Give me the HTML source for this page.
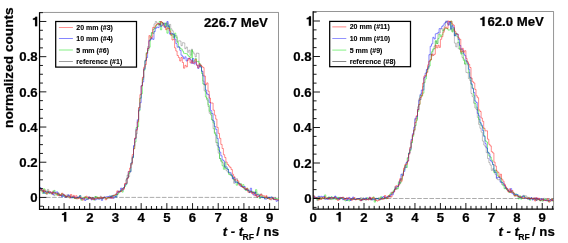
<!DOCTYPE html>
<html><head><meta charset="utf-8"><title>plot</title>
<style>
html,body{margin:0;padding:0;background:#fff;}
body{width:568px;height:243px;overflow:hidden;}
svg{display:block;will-change:transform;}
text{font-family:"Liberation Sans",sans-serif;font-weight:bold;fill:#000;stroke:#000;stroke-width:0.22px;}
.tl{font-size:13.2px;}
.xt{font-size:13.2px;}
.sub{font-size:8.7px;stroke-width:0.1px;}
.ti{font-size:13.2px;}
.lg{font-size:7px;stroke-width:0.1px;}
.yt{font-size:13.65px;}
</style></head><body>
<svg width="568" height="243" viewBox="0 0 568 243">
<rect width="568" height="243" fill="#fff"/>
<text class="yt" transform="translate(13.2 127.9) rotate(-90)">normalized counts</text>
<path d="M39.55 12.45H278.5V209.3" fill="none" stroke="#000" stroke-width="0.42"/>
<path d="M46.0 197.4H278.5" fill="none" stroke="#000" stroke-width="0.55" stroke-dasharray="4.6 1.5" opacity="0.6"/>
<path d="M39.7 187.8H41.0V191.1H42.3V191.2H43.5V192.2H44.8V190.0H46.1V194.4H47.4V189.4H48.7V192.9H50.0V191.9H51.2V192.9H52.5V191.0H53.8V195.7H55.1V193.9H56.4V194.3H57.7V192.7H59.0V195.8H60.2V194.9H61.5V196.1H62.8V195.3H64.1V194.9H65.4V197.1H66.7V194.8H67.9V195.4H69.2V196.1H70.5V195.9H71.8V197.7H73.1V197.3H74.4V198.2H75.7V197.6H76.9V197.0H78.2V198.3H79.5V198.1H80.8V198.5H82.1V198.8H83.4V198.7H84.6V198.2H85.9V199.3H87.2V198.0H88.5V196.7H89.8V197.6H91.1V198.5H92.3V199.2H93.6V199.0H94.9V196.7H96.2V198.3H97.5V198.9H98.8V198.1H100.1V196.2H101.3V198.2H102.6V197.6H103.9V197.8H105.2V198.3H106.5V198.9H107.8V198.0H109.0V197.6H110.3V196.6H111.6V195.8H112.9V195.1H114.2V195.2H115.5V193.8H116.8V194.8H118.0V191.2H119.3V190.9H120.6V190.8H121.9V188.6H123.2V187.9H124.5V183.8H125.7V179.8H127.0V175.1H128.3V176.7H129.6V172.1H130.9V164.8H132.2V156.4H133.5V146.5H134.7V138.4H136.0V133.8H137.3V120.7H138.6V107.6H139.9V97.9H141.2V85.7H142.4V77.8H143.7V68.7H145.0V60.1H146.3V52.7H147.6V46.6H148.9V41.2H150.2V39.0H151.4V32.5H152.7V29.5H154.0V23.9H155.3V21.5H156.6V23.0H157.9V23.9H159.1V24.3H160.4V21.5H161.7V22.6H163.0V23.8H164.3V23.0H165.6V25.2H166.9V22.7H168.1V27.2H169.4V24.4H170.7V28.8H172.0V30.8H173.3V37.2H174.6V35.6H175.8V35.7H177.1V41.5H178.4V40.8H179.7V41.0H181.0V45.7H182.3V42.7H183.5V42.9H184.8V48.7H186.1V47.0H187.4V52.3H188.7V50.2H190.0V55.2H191.3V49.2H192.5V51.9H193.8V53.9H195.1V56.8H196.4V53.0H197.7V53.3H199.0V66.5H200.2V64.9H201.5V71.1H202.8V81.1H204.1V90.8H205.4V92.0H206.7V100.0H208.0V106.5H209.2V113.3H210.5V115.0H211.8V120.0H213.1V128.7H214.4V132.5H215.7V142.5H216.9V145.6H218.2V153.2H219.5V158.5H220.8V161.6H222.1V162.7H223.4V165.3H224.7V167.8H225.9V170.3H227.2V172.1H228.5V172.9H229.8V175.1H231.1V175.9H232.4V178.8H233.6V183.3H234.9V179.3H236.2V178.7H237.5V182.4H238.8V184.2H240.1V185.2H241.4V186.1H242.6V186.8H243.9V189.2H245.2V189.2H246.5V190.6H247.8V189.7H249.1V191.2H250.3V190.9H251.6V192.5H252.9V191.8H254.2V193.5H255.5V191.9H256.8V197.4H258.0V196.6H259.3V195.3H260.6V193.9H261.9V197.3H263.2V197.3H264.5V197.8H265.8V196.5H267.0V198.3H268.3V197.5H269.6V198.7H270.9V199.9H272.2V198.5H273.5V198.5H274.7V197.9H276.0V199.5H277.3V200.1H278.6" fill="none" stroke="#000000" stroke-width="0.4" stroke-opacity="0.6" stroke-linejoin="miter"/>
<path d="M39.7 190.6H41.0V190.4H42.3V193.4H43.5V188.8H44.8V193.5H46.1V192.6H47.4V191.1H48.7V193.6H50.0V193.7H51.2V193.8H52.5V192.3H53.8V190.4H55.1V193.5H56.4V195.2H57.7V193.5H59.0V195.2H60.2V194.8H61.5V193.7H62.8V196.2H64.1V195.6H65.4V196.9H66.7V196.3H67.9V196.1H69.2V197.7H70.5V197.2H71.8V197.2H73.1V197.8H74.4V198.5H75.7V198.8H76.9V197.6H78.2V197.8H79.5V195.5H80.8V200.2H82.1V197.8H83.4V197.7H84.6V196.8H85.9V197.7H87.2V199.1H88.5V198.3H89.8V197.8H91.1V198.6H92.3V197.6H93.6V200.1H94.9V196.6H96.2V196.9H97.5V198.6H98.8V197.7H100.1V198.2H101.3V199.1H102.6V198.1H103.9V197.1H105.2V198.3H106.5V198.2H107.8V197.7H109.0V197.0H110.3V195.9H111.6V197.4H112.9V195.6H114.2V195.3H115.5V197.0H116.8V194.5H118.0V193.0H119.3V191.7H120.6V190.1H121.9V192.1H123.2V187.8H124.5V186.5H125.7V184.4H127.0V177.9H128.3V173.6H129.6V171.2H130.9V163.0H132.2V157.9H133.5V148.7H134.7V142.0H136.0V127.5H137.3V126.7H138.6V110.9H139.9V98.3H141.2V93.7H142.4V79.4H143.7V70.2H145.0V60.6H146.3V52.8H147.6V50.3H148.9V47.2H150.2V36.1H151.4V32.8H152.7V33.4H154.0V28.4H155.3V26.1H156.6V24.5H157.9V24.8H159.1V21.5H160.4V29.8H161.7V22.6H163.0V24.4H164.3V26.2H165.6V23.0H166.9V33.2H168.1V25.4H169.4V29.1H170.7V35.4H172.0V33.9H173.3V38.2H174.6V33.1H175.8V37.2H177.1V42.5H178.4V47.1H179.7V48.2H181.0V49.1H182.3V51.1H183.5V53.2H184.8V53.5H186.1V53.7H187.4V55.2H188.7V56.5H190.0V57.9H191.3V50.2H192.5V61.2H193.8V61.0H195.1V58.4H196.4V61.5H197.7V61.3H199.0V63.5H200.2V66.6H201.5V73.5H202.8V84.0H204.1V85.0H205.4V97.0H206.7V98.7H208.0V104.9H209.2V111.3H210.5V113.1H211.8V120.0H213.1V123.0H214.4V133.7H215.7V135.3H216.9V142.8H218.2V150.1H219.5V158.5H220.8V160.6H222.1V165.8H223.4V169.3H224.7V162.6H225.9V168.5H227.2V169.0H228.5V174.3H229.8V174.2H231.1V175.8H232.4V177.4H233.6V179.7H234.9V181.3H236.2V185.2H237.5V182.3H238.8V183.6H240.1V183.6H241.4V186.5H242.6V184.6H243.9V188.5H245.2V190.3H246.5V188.2H247.8V190.8H249.1V192.5H250.3V191.5H251.6V191.4H252.9V192.8H254.2V193.2H255.5V189.7H256.8V194.3H258.0V194.1H259.3V198.5H260.6V196.3H261.9V196.2H263.2V197.7H264.5V198.4H265.8V197.4H267.0V198.3H268.3V198.8H269.6V197.3H270.9V197.3H272.2V198.5H273.5V199.4H274.7V198.7H276.0V198.5H277.3V198.9H278.6" fill="none" stroke="#00e000" stroke-width="0.45" stroke-opacity="1" stroke-linejoin="miter"/>
<path d="M39.7 187.7H41.0V189.8H42.3V190.5H43.5V193.3H44.8V191.5H46.1V191.9H47.4V191.9H48.7V192.8H50.0V192.4H51.2V193.2H52.5V194.6H53.8V192.1H55.1V192.5H56.4V191.8H57.7V194.1H59.0V195.0H60.2V195.4H61.5V196.9H62.8V194.2H64.1V196.9H65.4V197.2H66.7V196.4H67.9V194.8H69.2V196.4H70.5V197.9H71.8V197.7H73.1V196.5H74.4V197.4H75.7V198.1H76.9V197.7H78.2V196.9H79.5V195.8H80.8V199.0H82.1V198.5H83.4V198.8H84.6V200.5H85.9V199.1H87.2V199.3H88.5V197.2H89.8V198.4H91.1V199.9H92.3V197.7H93.6V198.6H94.9V200.0H96.2V198.9H97.5V198.9H98.8V199.2H100.1V198.3H101.3V200.4H102.6V198.4H103.9V197.1H105.2V197.1H106.5V196.7H107.8V196.5H109.0V196.0H110.3V198.3H111.6V195.8H112.9V198.3H114.2V196.2H115.5V197.1H116.8V192.7H118.0V191.2H119.3V191.9H120.6V188.1H121.9V190.2H123.2V187.7H124.5V185.3H125.7V183.8H127.0V178.0H128.3V171.7H129.6V171.8H130.9V162.9H132.2V157.4H133.5V145.5H134.7V138.8H136.0V129.2H137.3V119.7H138.6V110.0H139.9V102.7H141.2V85.7H142.4V82.0H143.7V69.2H145.0V60.8H146.3V57.6H147.6V48.6H148.9V40.4H150.2V39.3H151.4V37.9H152.7V39.4H154.0V31.5H155.3V28.3H156.6V27.0H157.9V27.6H159.1V23.8H160.4V26.4H161.7V25.2H163.0V23.3H164.3V27.5H165.6V26.6H166.9V21.5H168.1V26.6H169.4V34.1H170.7V33.1H172.0V33.9H173.3V34.3H174.6V39.2H175.8V43.6H177.1V47.2H178.4V46.8H179.7V50.3H181.0V55.2H182.3V56.7H183.5V58.8H184.8V56.8H186.1V61.0H187.4V58.6H188.7V58.3H190.0V59.7H191.3V63.4H192.5V58.5H193.8V64.0H195.1V61.8H196.4V65.2H197.7V68.4H199.0V64.9H200.2V67.1H201.5V71.3H202.8V75.9H204.1V84.3H205.4V90.0H206.7V94.0H208.0V94.7H209.2V102.4H210.5V110.6H211.8V113.6H213.1V121.1H214.4V126.5H215.7V129.4H216.9V138.4H218.2V147.2H219.5V152.1H220.8V155.8H222.1V159.9H223.4V161.0H224.7V167.0H225.9V166.9H227.2V169.5H228.5V172.3H229.8V172.7H231.1V175.0H232.4V178.8H233.6V177.5H234.9V182.4H236.2V181.9H237.5V183.2H238.8V183.7H240.1V186.3H241.4V186.3H242.6V187.3H243.9V186.5H245.2V189.8H246.5V189.4H247.8V190.5H249.1V192.6H250.3V188.2H251.6V192.4H252.9V194.9H254.2V192.1H255.5V195.8H256.8V194.8H258.0V194.9H259.3V197.1H260.6V197.2H261.9V197.6H263.2V197.4H264.5V199.1H265.8V199.0H267.0V198.1H268.3V197.2H269.6V197.8H270.9V196.9H272.2V198.1H273.5V199.5H274.7V199.3H276.0V201.3H277.3V200.4H278.6" fill="none" stroke="#0000ff" stroke-width="0.45" stroke-opacity="1" stroke-linejoin="miter"/>
<path d="M39.7 190.0H41.0V189.6H42.3V191.9H43.5V190.0H44.8V191.7H46.1V193.5H47.4V192.6H48.7V191.3H50.0V191.9H51.2V194.0H52.5V192.1H53.8V193.3H55.1V193.0H56.4V193.4H57.7V195.5H59.0V194.0H60.2V195.5H61.5V193.2H62.8V194.5H64.1V195.5H65.4V197.0H66.7V196.1H67.9V196.2H69.2V198.0H70.5V194.5H71.8V196.6H73.1V195.4H74.4V198.4H75.7V195.7H76.9V198.8H78.2V198.2H79.5V197.2H80.8V197.8H82.1V200.2H83.4V199.1H84.6V197.3H85.9V196.2H87.2V197.4H88.5V198.6H89.8V197.5H91.1V199.4H92.3V197.8H93.6V199.6H94.9V198.3H96.2V198.4H97.5V197.5H98.8V198.6H100.1V197.1H101.3V198.5H102.6V197.4H103.9V197.3H105.2V199.8H106.5V197.8H107.8V197.6H109.0V198.2H110.3V197.0H111.6V198.3H112.9V195.6H114.2V195.0H115.5V194.5H116.8V190.9H118.0V192.4H119.3V191.5H120.6V191.4H121.9V188.9H123.2V189.2H124.5V183.7H125.7V183.2H127.0V178.3H128.3V171.4H129.6V168.0H130.9V163.8H132.2V154.6H133.5V148.8H134.7V138.0H136.0V130.2H137.3V122.0H138.6V107.7H139.9V94.6H141.2V85.9H142.4V77.2H143.7V67.2H145.0V64.6H146.3V53.6H147.6V48.4H148.9V35.6H150.2V38.3H151.4V37.1H152.7V27.4H154.0V27.6H155.3V25.1H156.6V23.9H157.9V23.4H159.1V24.9H160.4V21.5H161.7V22.8H163.0V26.0H164.3V26.2H165.6V29.7H166.9V27.9H168.1V28.5H169.4V30.9H170.7V34.4H172.0V40.0H173.3V39.5H174.6V47.9H175.8V51.0H177.1V55.5H178.4V57.6H179.7V61.0H181.0V57.5H182.3V62.5H183.5V68.2H184.8V65.3H186.1V66.9H187.4V60.2H188.7V58.3H190.0V62.9H191.3V60.7H192.5V63.3H193.8V62.3H195.1V59.5H196.4V65.1H197.7V67.8H199.0V63.9H200.2V65.4H201.5V66.4H202.8V67.6H204.1V76.0H205.4V84.7H206.7V82.9H208.0V91.2H209.2V98.1H210.5V103.0H211.8V103.0H213.1V110.2H214.4V115.1H215.7V119.1H216.9V127.4H218.2V133.4H219.5V138.3H220.8V144.4H222.1V148.5H223.4V154.7H224.7V157.5H225.9V162.1H227.2V164.5H228.5V166.0H229.8V167.4H231.1V169.6H232.4V174.3H233.6V176.7H234.9V180.1H236.2V180.0H237.5V180.9H238.8V185.2H240.1V184.3H241.4V186.9H242.6V187.5H243.9V187.8H245.2V189.4H246.5V188.4H247.8V192.2H249.1V191.8H250.3V191.7H251.6V193.6H252.9V192.6H254.2V195.7H255.5V194.5H256.8V196.9H258.0V196.0H259.3V195.8H260.6V194.3H261.9V195.9H263.2V195.7H264.5V197.5H265.8V195.7H267.0V198.2H268.3V198.4H269.6V199.7H270.9V198.4H272.2V197.8H273.5V199.6H274.7V199.5H276.0V199.8H277.3V199.8H278.6" fill="none" stroke="#ff0000" stroke-width="0.45" stroke-opacity="1" stroke-linejoin="miter"/>
<path d="M39.55 206.22h3.4M39.55 197.42h6.8M39.55 188.62h3.4M39.55 179.82h3.4M39.55 171.03h3.4M39.55 162.23h6.8M39.55 153.43h3.4M39.55 144.63h3.4M39.55 135.84h3.4M39.55 127.04h6.8M39.55 118.24h3.4M39.55 109.44h3.4M39.55 100.65h3.4M39.55 91.85h6.8M39.55 83.05h3.4M39.55 74.26h3.4M39.55 65.46h3.4M39.55 56.66h6.8M39.55 47.86h3.4M39.55 39.06h3.4M39.55 30.27h3.4M39.55 21.47h6.8M39.55 12.67h3.4M43.54 209.3v-3.3M48.68 209.3v-3.3M53.81 209.3v-3.3M58.95 209.3v-3.3M64.09 209.3v-6.2M69.23 209.3v-3.3M74.37 209.3v-3.3M79.50 209.3v-3.3M84.64 209.3v-3.3M89.78 209.3v-6.2M94.92 209.3v-3.3M100.06 209.3v-3.3M105.19 209.3v-3.3M110.33 209.3v-3.3M115.47 209.3v-6.2M120.61 209.3v-3.3M125.75 209.3v-3.3M130.88 209.3v-3.3M136.02 209.3v-3.3M141.16 209.3v-6.2M146.30 209.3v-3.3M151.44 209.3v-3.3M156.57 209.3v-3.3M161.71 209.3v-3.3M166.85 209.3v-6.2M171.99 209.3v-3.3M177.13 209.3v-3.3M182.26 209.3v-3.3M187.40 209.3v-3.3M192.54 209.3v-6.2M197.68 209.3v-3.3M202.82 209.3v-3.3M207.95 209.3v-3.3M213.09 209.3v-3.3M218.23 209.3v-6.2M223.37 209.3v-3.3M228.51 209.3v-3.3M233.64 209.3v-3.3M238.78 209.3v-3.3M243.92 209.3v-6.2M249.06 209.3v-3.3M254.20 209.3v-3.3M259.33 209.3v-3.3M264.47 209.3v-3.3M269.61 209.3v-6.2M274.75 209.3v-3.3" fill="none" stroke="#000" stroke-width="0.9"/>
<path d="M39.55 12.149999999999999V209.3H278.8" fill="none" stroke="#000" stroke-width="1.25" stroke-linejoin="miter"/>
<text x="37.7" y="202.1" text-anchor="end" class="tl">0</text>
<text x="37.7" y="166.9" text-anchor="end" class="tl">0.2</text>
<text x="37.7" y="131.7" text-anchor="end" class="tl">0.4</text>
<text x="37.7" y="96.5" text-anchor="end" class="tl">0.6</text>
<text x="37.7" y="61.4" text-anchor="end" class="tl">0.8</text>
<path d="M37.20 26.17H35.05V19.72H32.90V18.42C34.10 18.37 35.10 17.87 35.45 16.72H37.20Z" fill="#000" stroke="#000" stroke-width="0.15"/>
<path d="M66.24 221.50H64.09V215.05H61.94V213.75C63.14 213.70 64.14 213.20 64.49 212.05H66.24Z" fill="#000" stroke="#000" stroke-width="0.15"/>
<text x="89.8" y="221.5" text-anchor="middle" class="tl">2</text>
<text x="115.5" y="221.5" text-anchor="middle" class="tl">3</text>
<text x="141.2" y="221.5" text-anchor="middle" class="tl">4</text>
<text x="166.9" y="221.5" text-anchor="middle" class="tl">5</text>
<text x="192.5" y="221.5" text-anchor="middle" class="tl">6</text>
<text x="218.2" y="221.5" text-anchor="middle" class="tl">7</text>
<text x="243.9" y="221.5" text-anchor="middle" class="tl">8</text>
<text x="269.6" y="221.5" text-anchor="middle" class="tl">9</text>
<text x="222.7" y="235.6" class="xt" font-style="italic">t - t</text>
<text x="242.6" y="240.3" class="sub">RF</text>
<text x="256.3" y="235.6" class="xt">/ ns</text>
<text x="204.0" y="27.0" class="ti">226.7 MeV</text>
<rect x="55.7" y="21.5" width="80.8" height="45.599999999999994" fill="#fff" stroke="#000" stroke-width="1.25"/>
<path d="M58.9 27.4h14" stroke="#ff0000" stroke-width="0.6" opacity="0.8"/>
<text x="76.3" y="29.9" class="lg">20 mm (#3)</text>
<path d="M58.9 38.5h14" stroke="#0000ff" stroke-width="0.6" opacity="0.8"/>
<text x="76.3" y="41.0" class="lg">10 mm (#4)</text>
<path d="M58.9 50.0h14" stroke="#00e000" stroke-width="0.6" opacity="0.8"/>
<text x="76.3" y="52.5" class="lg">5 mm (#6)</text>
<path d="M58.9 61.7h14" stroke="#000000" stroke-width="0.6" opacity="0.8"/>
<text x="76.3" y="64.2" class="lg">reference (#1)</text>
<path d="M313.15 11.5H553.55V209.2" fill="none" stroke="#000" stroke-width="0.42"/>
<path d="M319.6 198.5H553.55" fill="none" stroke="#000" stroke-width="0.55" stroke-dasharray="4.6 1.5" opacity="0.6"/>
<path d="M313.1 195.7H314.4V198.0H315.6V198.2H316.9V200.6H318.2V197.8H319.5V198.1H320.7V198.4H322.0V197.5H323.3V197.4H324.6V199.1H325.8V198.9H327.1V198.5H328.4V197.3H329.6V197.5H330.9V199.6H332.2V199.4H333.5V197.5H334.7V196.7H336.0V198.5H337.3V199.2H338.6V197.4H339.8V198.9H341.1V197.9H342.4V197.1H343.7V198.1H344.9V198.6H346.2V198.0H347.5V199.4H348.7V199.0H350.0V199.4H351.3V199.1H352.6V199.4H353.8V199.1H355.1V199.3H356.4V198.9H357.7V198.9H358.9V198.7H360.2V197.6H361.5V200.6H362.7V197.8H364.0V199.3H365.3V200.3H366.6V199.2H367.8V198.9H369.1V198.0H370.4V200.1H371.7V198.8H372.9V198.9H374.2V200.7H375.5V200.2H376.8V198.4H378.0V198.2H379.3V197.8H380.6V198.2H381.8V198.3H383.1V198.4H384.4V197.1H385.7V198.7H386.9V197.3H388.2V195.8H389.5V197.2H390.8V192.2H392.0V193.4H393.3V191.0H394.6V186.7H395.8V189.4H397.1V187.0H398.4V181.6H399.7V182.8H400.9V178.5H402.2V173.2H403.5V169.7H404.8V166.1H406.0V163.1H407.3V157.5H408.6V153.0H409.8V147.2H411.1V142.4H412.4V135.2H413.7V131.1H414.9V119.4H416.2V118.7H417.5V106.8H418.8V98.8H420.0V99.5H421.3V92.9H422.6V86.6H423.9V77.8H425.1V76.5H426.4V69.9H427.7V66.4H428.9V61.7H430.2V54.0H431.5V56.0H432.8V49.9H434.0V46.1H435.3V41.3H436.6V43.6H437.9V34.2H439.1V32.9H440.4V29.1H441.7V28.8H442.9V31.0H444.2V26.2H445.5V21.0H446.8V23.1H448.0V24.4H449.3V21.5H450.6V22.7H451.9V31.1H453.1V29.1H454.4V43.1H455.7V46.9H456.9V42.7H458.2V48.7H459.5V49.6H460.8V52.9H462.0V57.6H463.3V59.1H464.6V64.2H465.9V72.4H467.1V72.9H468.4V78.5H469.7V80.5H471.0V93.5H472.2V96.7H473.5V103.2H474.8V107.9H476.0V109.3H477.3V117.4H478.6V124.4H479.9V128.2H481.1V132.2H482.4V141.1H483.7V145.0H485.0V146.7H486.2V152.7H487.5V158.5H488.8V162.6H490.0V165.1H491.3V170.4H492.6V168.7H493.9V172.1H495.1V174.6H496.4V178.8H497.7V179.8H499.0V179.6H500.2V181.7H501.5V184.4H502.8V184.5H504.1V185.2H505.3V188.8H506.6V189.7H507.9V191.1H509.1V192.4H510.4V190.7H511.7V191.9H513.0V193.0H514.2V195.6H515.5V196.1H516.8V195.5H518.1V196.4H519.3V196.2H520.6V197.5H521.9V196.3H523.1V195.3H524.4V195.8H525.7V196.0H527.0V198.0H528.2V197.3H529.5V198.8H530.8V197.7H532.1V199.1H533.3V199.4H534.6V199.7H535.9V198.5H537.1V199.0H538.4V199.2H539.7V200.6H541.0V199.5H542.2V201.1H543.5V198.3H544.8V200.0H546.1V199.8H547.3V200.2H548.6V201.7H549.9V201.5H551.2V200.3H552.4V198.8H553.6" fill="none" stroke="#000000" stroke-width="0.4" stroke-opacity="0.6" stroke-linejoin="miter"/>
<path d="M313.1 197.1H314.4V198.4H315.6V197.4H316.9V199.6H318.2V197.0H319.5V199.4H320.7V197.8H322.0V198.0H323.3V198.8H324.6V194.9H325.8V198.6H327.1V197.5H328.4V196.9H329.6V199.4H330.9V196.8H332.2V198.4H333.5V197.3H334.7V199.3H336.0V199.5H337.3V197.3H338.6V198.0H339.8V198.4H341.1V198.0H342.4V198.1H343.7V199.8H344.9V200.9H346.2V200.4H347.5V200.5H348.7V201.0H350.0V199.5H351.3V199.4H352.6V198.9H353.8V198.7H355.1V199.3H356.4V199.2H357.7V198.9H358.9V200.0H360.2V199.7H361.5V199.0H362.7V199.7H364.0V199.6H365.3V199.1H366.6V197.7H367.8V198.7H369.1V199.4H370.4V199.6H371.7V199.1H372.9V196.9H374.2V202.1H375.5V198.5H376.8V198.7H378.0V198.1H379.3V200.0H380.6V196.7H381.8V197.7H383.1V198.6H384.4V198.2H385.7V198.6H386.9V197.1H388.2V196.5H389.5V194.2H390.8V193.6H392.0V192.6H393.3V190.2H394.6V189.1H395.8V188.2H397.1V188.7H398.4V182.7H399.7V183.3H400.9V179.8H402.2V174.8H403.5V170.3H404.8V165.5H406.0V167.5H407.3V158.2H408.6V152.9H409.8V150.4H411.1V142.8H412.4V136.4H413.7V130.0H414.9V125.5H416.2V120.3H417.5V111.3H418.8V104.6H420.0V95.5H421.3V96.2H422.6V93.2H423.9V82.7H425.1V78.9H426.4V71.9H427.7V68.8H428.9V66.0H430.2V59.9H431.5V51.7H432.8V48.9H434.0V48.4H435.3V40.6H436.6V43.5H437.9V38.6H439.1V34.6H440.4V36.9H441.7V34.8H442.9V30.1H444.2V29.0H445.5V28.4H446.8V28.7H448.0V30.1H449.3V29.9H450.6V21.0H451.9V32.0H453.1V28.2H454.4V35.5H455.7V33.0H456.9V36.8H458.2V42.7H459.5V48.9H460.8V54.1H462.0V51.5H463.3V60.4H464.6V63.9H465.9V60.7H467.1V64.8H468.4V72.5H469.7V78.1H471.0V84.6H472.2V88.0H473.5V95.7H474.8V103.6H476.0V107.2H477.3V110.3H478.6V119.4H479.9V123.3H481.1V126.0H482.4V127.8H483.7V135.7H485.0V140.8H486.2V142.0H487.5V152.2H488.8V155.9H490.0V157.1H491.3V160.2H492.6V164.6H493.9V172.7H495.1V170.0H496.4V172.7H497.7V176.1H499.0V177.3H500.2V178.3H501.5V182.4H502.8V185.7H504.1V188.7H505.3V187.6H506.6V190.0H507.9V190.9H509.1V192.6H510.4V191.7H511.7V191.9H513.0V193.1H514.2V195.7H515.5V193.9H516.8V195.2H518.1V198.9H519.3V195.8H520.6V199.1H521.9V198.3H523.1V196.2H524.4V196.9H525.7V198.5H527.0V199.0H528.2V197.9H529.5V200.2H530.8V198.2H532.1V199.0H533.3V198.2H534.6V199.2H535.9V200.2H537.1V199.1H538.4V199.7H539.7V200.9H541.0V200.7H542.2V200.7H543.5V199.7H544.8V199.1H546.1V200.0H547.3V201.2H548.6V200.4H549.9V199.6H551.2V199.1H552.4V201.1H553.6" fill="none" stroke="#00e000" stroke-width="0.45" stroke-opacity="1" stroke-linejoin="miter"/>
<path d="M313.1 198.4H314.4V196.8H315.6V197.7H316.9V197.2H318.2V196.2H319.5V197.2H320.7V196.3H322.0V196.9H323.3V196.3H324.6V199.1H325.8V198.8H327.1V199.4H328.4V197.5H329.6V198.4H330.9V197.2H332.2V197.9H333.5V198.2H334.7V196.1H336.0V197.8H337.3V198.5H338.6V199.5H339.8V197.4H341.1V197.7H342.4V199.7H343.7V198.8H344.9V198.5H346.2V200.4H347.5V199.1H348.7V197.4H350.0V200.5H351.3V198.4H352.6V197.0H353.8V199.5H355.1V199.4H356.4V198.8H357.7V198.5H358.9V198.6H360.2V200.5H361.5V199.8H362.7V198.9H364.0V199.4H365.3V197.9H366.6V199.4H367.8V199.4H369.1V197.2H370.4V199.1H371.7V200.0H372.9V199.0H374.2V199.3H375.5V198.3H376.8V198.5H378.0V199.3H379.3V199.2H380.6V199.3H381.8V197.3H383.1V196.5H384.4V198.4H385.7V197.2H386.9V196.7H388.2V196.8H389.5V195.9H390.8V194.5H392.0V194.8H393.3V191.9H394.6V188.9H395.8V186.8H397.1V186.5H398.4V184.3H399.7V180.0H400.9V174.3H402.2V175.4H403.5V171.5H404.8V167.6H406.0V162.5H407.3V161.0H408.6V153.5H409.8V149.2H411.1V139.4H412.4V133.7H413.7V127.3H414.9V118.4H416.2V116.5H417.5V109.6H418.8V100.3H420.0V94.4H421.3V90.0H422.6V90.1H423.9V77.7H425.1V73.2H426.4V69.4H427.7V67.7H428.9V54.7H430.2V46.2H431.5V43.9H432.8V37.3H434.0V39.0H435.3V33.8H436.6V33.4H437.9V32.4H439.1V28.6H440.4V28.4H441.7V26.4H442.9V25.1H444.2V23.0H445.5V22.1H446.8V21.0H448.0V25.2H449.3V22.0H450.6V29.1H451.9V25.7H453.1V27.4H454.4V35.9H455.7V33.9H456.9V34.1H458.2V39.5H459.5V45.4H460.8V48.9H462.0V50.0H463.3V53.8H464.6V55.6H465.9V61.1H467.1V63.3H468.4V69.2H469.7V77.4H471.0V83.8H472.2V88.7H473.5V92.5H474.8V101.0H476.0V102.5H477.3V113.4H478.6V115.9H479.9V122.6H481.1V125.1H482.4V130.6H483.7V136.4H485.0V143.7H486.2V148.0H487.5V152.4H488.8V153.7H490.0V160.6H491.3V162.0H492.6V164.6H493.9V170.7H495.1V172.8H496.4V178.1H497.7V177.3H499.0V177.7H500.2V182.3H501.5V182.2H502.8V183.3H504.1V185.6H505.3V188.1H506.6V188.5H507.9V190.8H509.1V191.4H510.4V188.6H511.7V193.3H513.0V194.3H514.2V194.0H515.5V194.5H516.8V194.5H518.1V196.8H519.3V197.6H520.6V197.9H521.9V196.2H523.1V196.1H524.4V198.4H525.7V198.4H527.0V198.1H528.2V199.3H529.5V198.9H530.8V197.7H532.1V200.0H533.3V198.6H534.6V197.9H535.9V200.3H537.1V198.2H538.4V199.4H539.7V200.1H541.0V198.8H542.2V199.6H543.5V200.1H544.8V200.5H546.1V200.8H547.3V200.6H548.6V200.4H549.9V199.4H551.2V200.5H552.4V200.0H553.6" fill="none" stroke="#0000ff" stroke-width="0.45" stroke-opacity="1" stroke-linejoin="miter"/>
<path d="M313.1 195.9H314.4V197.6H315.6V197.5H316.9V197.8H318.2V200.0H319.5V197.6H320.7V199.5H322.0V197.6H323.3V198.5H324.6V196.8H325.8V198.2H327.1V198.0H328.4V199.2H329.6V197.5H330.9V198.4H332.2V197.6H333.5V197.5H334.7V197.6H336.0V198.7H337.3V200.4H338.6V199.7H339.8V197.7H341.1V197.6H342.4V197.4H343.7V199.2H344.9V199.7H346.2V197.9H347.5V197.9H348.7V198.8H350.0V198.9H351.3V200.2H352.6V199.1H353.8V197.6H355.1V199.9H356.4V199.4H357.7V199.1H358.9V199.3H360.2V200.8H361.5V199.5H362.7V199.6H364.0V199.4H365.3V199.4H366.6V199.0H367.8V200.0H369.1V197.4H370.4V199.4H371.7V197.6H372.9V197.6H374.2V198.9H375.5V200.2H376.8V201.1H378.0V200.4H379.3V199.1H380.6V198.6H381.8V199.4H383.1V199.1H384.4V195.5H385.7V197.5H386.9V198.5H388.2V195.5H389.5V196.5H390.8V197.0H392.0V192.1H393.3V192.0H394.6V189.6H395.8V185.7H397.1V186.2H398.4V185.2H399.7V178.7H400.9V181.2H402.2V176.0H403.5V168.1H404.8V164.6H406.0V164.3H407.3V161.2H408.6V154.3H409.8V147.8H411.1V140.8H412.4V134.8H413.7V129.9H414.9V122.5H416.2V115.7H417.5V109.7H418.8V104.4H420.0V97.5H421.3V95.4H422.6V83.1H423.9V76.0H425.1V75.4H426.4V72.7H427.7V64.8H428.9V61.0H430.2V59.7H431.5V54.1H432.8V55.4H434.0V54.3H435.3V45.3H436.6V47.9H437.9V45.2H439.1V47.4H440.4V39.3H441.7V36.7H442.9V32.2H444.2V27.9H445.5V27.1H446.8V28.6H448.0V21.0H449.3V21.8H450.6V21.3H451.9V24.0H453.1V25.2H454.4V31.2H455.7V33.8H456.9V34.2H458.2V37.9H459.5V39.3H460.8V52.0H462.0V48.3H463.3V52.3H464.6V50.7H465.9V58.4H467.1V61.9H468.4V64.3H469.7V67.5H471.0V78.1H472.2V81.7H473.5V82.9H474.8V89.4H476.0V95.8H477.3V97.7H478.6V109.9H479.9V111.5H481.1V118.0H482.4V121.3H483.7V128.3H485.0V130.9H486.2V130.8H487.5V139.2H488.8V144.3H490.0V145.9H491.3V151.7H492.6V152.9H493.9V162.1H495.1V166.0H496.4V171.0H497.7V172.4H499.0V177.0H500.2V174.2H501.5V179.2H502.8V181.2H504.1V184.3H505.3V186.8H506.6V189.0H507.9V192.0H509.1V188.9H510.4V192.5H511.7V190.5H513.0V192.8H514.2V196.1H515.5V195.5H516.8V196.0H518.1V196.7H519.3V197.2H520.6V196.9H521.9V197.9H523.1V198.3H524.4V197.6H525.7V197.9H527.0V198.7H528.2V197.9H529.5V199.0H530.8V198.3H532.1V198.9H533.3V197.9H534.6V201.0H535.9V197.6H537.1V199.9H538.4V198.3H539.7V200.3H541.0V200.0H542.2V199.4H543.5V200.4H544.8V200.6H546.1V200.4H547.3V198.8H548.6V202.1H549.9V200.4H551.2V199.0H552.4V200.8H553.6" fill="none" stroke="#ff0000" stroke-width="0.45" stroke-opacity="1" stroke-linejoin="miter"/>
<path d="M313.15 207.38h3.4M313.15 198.50h6.8M313.15 189.62h3.4M313.15 180.75h3.4M313.15 171.88h3.4M313.15 163.00h6.8M313.15 154.12h3.4M313.15 145.25h3.4M313.15 136.38h3.4M313.15 127.50h6.8M313.15 118.62h3.4M313.15 109.75h3.4M313.15 100.87h3.4M313.15 92.00h6.8M313.15 83.12h3.4M313.15 74.25h3.4M313.15 65.38h3.4M313.15 56.50h6.8M313.15 47.62h3.4M313.15 38.75h3.4M313.15 29.88h3.4M313.15 21.00h6.8M313.15 12.12h3.4M318.19 209.2v-3.3M323.28 209.2v-3.3M328.38 209.2v-3.3M333.47 209.2v-3.3M338.56 209.2v-6.2M343.65 209.2v-3.3M348.74 209.2v-3.3M353.84 209.2v-3.3M358.93 209.2v-3.3M364.02 209.2v-6.2M369.11 209.2v-3.3M374.20 209.2v-3.3M379.30 209.2v-3.3M384.39 209.2v-3.3M389.48 209.2v-6.2M394.57 209.2v-3.3M399.66 209.2v-3.3M404.76 209.2v-3.3M409.85 209.2v-3.3M414.94 209.2v-6.2M420.03 209.2v-3.3M425.12 209.2v-3.3M430.22 209.2v-3.3M435.31 209.2v-3.3M440.40 209.2v-6.2M445.49 209.2v-3.3M450.58 209.2v-3.3M455.68 209.2v-3.3M460.77 209.2v-3.3M465.86 209.2v-6.2M470.95 209.2v-3.3M476.04 209.2v-3.3M481.14 209.2v-3.3M486.23 209.2v-3.3M491.32 209.2v-6.2M496.41 209.2v-3.3M501.50 209.2v-3.3M506.60 209.2v-3.3M511.69 209.2v-3.3M516.78 209.2v-6.2M521.87 209.2v-3.3M526.96 209.2v-3.3M532.06 209.2v-3.3M537.15 209.2v-3.3M542.24 209.2v-6.2M547.33 209.2v-3.3M552.42 209.2v-3.3" fill="none" stroke="#000" stroke-width="0.9"/>
<path d="M313.15 11.2V209.2H553.8499999999999" fill="none" stroke="#000" stroke-width="1.25" stroke-linejoin="miter"/>
<text x="311.5" y="203.2" text-anchor="end" class="tl">0</text>
<text x="311.5" y="167.7" text-anchor="end" class="tl">0.2</text>
<text x="311.5" y="132.2" text-anchor="end" class="tl">0.4</text>
<text x="311.5" y="96.7" text-anchor="end" class="tl">0.6</text>
<text x="311.5" y="61.2" text-anchor="end" class="tl">0.8</text>
<path d="M311.00 25.70H308.85V19.25H306.70V17.95C307.90 17.90 308.90 17.40 309.25 16.25H311.00Z" fill="#000" stroke="#000" stroke-width="0.15"/>
<text x="313.1" y="221.5" text-anchor="middle" class="tl">0</text>
<path d="M340.71 221.50H338.56V215.05H336.41V213.75C337.61 213.70 338.61 213.20 338.96 212.05H340.71Z" fill="#000" stroke="#000" stroke-width="0.15"/>
<text x="364.0" y="221.5" text-anchor="middle" class="tl">2</text>
<text x="389.5" y="221.5" text-anchor="middle" class="tl">3</text>
<text x="414.9" y="221.5" text-anchor="middle" class="tl">4</text>
<text x="440.4" y="221.5" text-anchor="middle" class="tl">5</text>
<text x="465.9" y="221.5" text-anchor="middle" class="tl">6</text>
<text x="491.3" y="221.5" text-anchor="middle" class="tl">7</text>
<text x="516.8" y="221.5" text-anchor="middle" class="tl">8</text>
<text x="542.2" y="221.5" text-anchor="middle" class="tl">9</text>
<text x="498.4" y="235.6" class="xt" font-style="italic">t - t</text>
<text x="518.3" y="240.3" class="sub">RF</text>
<text x="532.0" y="235.6" class="xt">/ ns</text>
<path d="M484.60 26.10H482.45V19.65H480.30V18.35C481.50 18.30 482.50 17.80 482.85 16.65H484.60Z" fill="#000" stroke="#000" stroke-width="0.15"/>
<text x="487.44" y="26.1" class="ti">62.0 MeV</text>
<rect x="329.7" y="21.4" width="80.80000000000001" height="45.300000000000004" fill="#fff" stroke="#000" stroke-width="1.25"/>
<path d="M332.3 26.9h14" stroke="#ff0000" stroke-width="0.6" opacity="0.8"/>
<text x="349.7" y="29.4" class="lg">20 mm (#11)</text>
<path d="M332.3 38.4h14" stroke="#0000ff" stroke-width="0.6" opacity="0.8"/>
<text x="349.7" y="40.9" class="lg">10 mm (#10)</text>
<path d="M332.3 50.1h14" stroke="#00e000" stroke-width="0.6" opacity="0.8"/>
<text x="349.7" y="52.6" class="lg">5 mm (#9)</text>
<path d="M332.3 61.5h14" stroke="#000000" stroke-width="0.6" opacity="0.8"/>
<text x="349.7" y="64.0" class="lg">reference (#8)</text>
</svg>
</body></html>
